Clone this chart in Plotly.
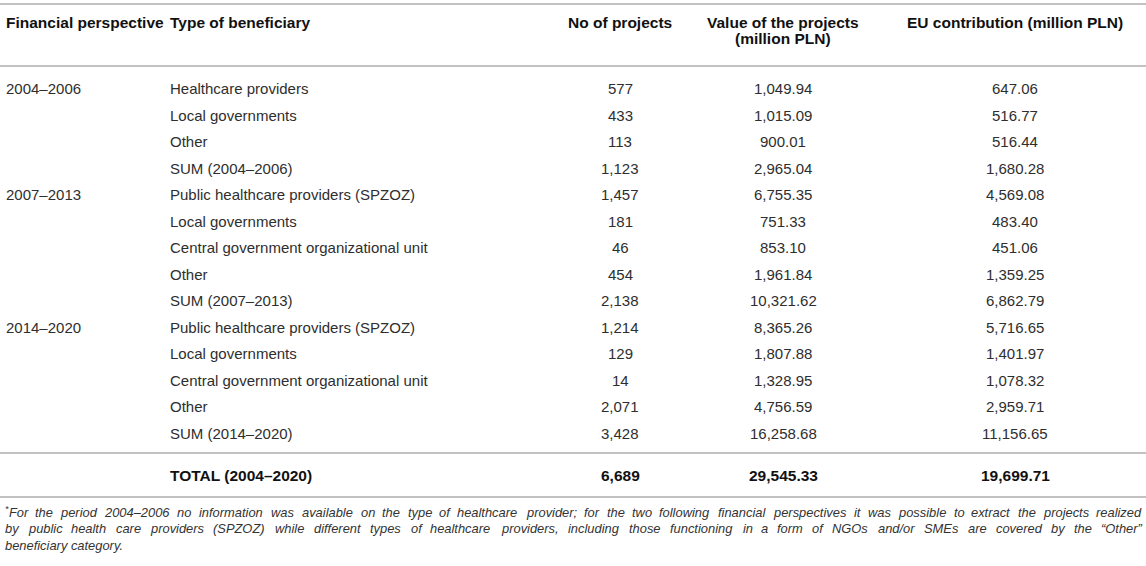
import plotly.graph_objects as go

# ---------------- data ----------------
periods = ["2004–2006", "2007–2013", "2014–2020"]
period_of_row = [0, 0, 0, 0, 1, 1, 1, 1, 1, 2, 2, 2, 2, 2]
beneficiary = [
    "Healthcare providers", "Local governments", "Other", "SUM (2004–2006)",
    "Public healthcare providers (SPZOZ)", "Local governments",
    "Central government organizational unit", "Other", "SUM (2007–2013)",
    "Public healthcare providers (SPZOZ)", "Local governments",
    "Central government organizational unit", "Other", "SUM (2014–2020)",
]
n_projects = [577, 433, 113, 1123, 1457, 181, 46, 454, 2138, 1214, 129, 14, 2071, 3428]
project_value = [1049.94, 1015.09, 900.01, 2965.04, 6755.35, 751.33, 853.10, 1961.84,
                 10321.62, 8365.26, 1807.88, 1328.95, 4756.59, 16258.68]
eu_contribution = [647.06, 516.77, 516.44, 1680.28, 4569.08, 483.40, 451.06, 1359.25,
                   6862.79, 5716.65, 1401.97, 1078.32, 2959.71, 11156.65]
total_label = "TOTAL (2004–2020)"
total_projects = 6689
total_value = 29545.33
total_eu = 19699.71

header_text = ["Financial perspective", "Type of beneficiary", "No of projects",
               ["Value of the projects", "(million PLN)"], "EU contribution (million PLN)"]
footnote_mark = "*"
footnote_lines = [
    "For the period 2004–2006 no information was available on the type of healthcare provider; "
    "for the two following financial perspectives it was possible to extract the projects realized",
    "by public health care providers (SPZOZ) while different types of healthcare providers, "
    "including those functioning in a form of NGOs and/or SMEs are covered by the “Other”",
    "beneficiary category.",
]

# ---------------- layout constants ----------------
W, H = 1146, 566
LEFT, RIGHT = 4, 1142
TEXT_COLS = [5, 169]
NUM_CENTERS = [620, 783, 1015]
HEAD_Y1, HEAD_Y2 = 22.5, 38
ROW0, ROW_H = 88.5, 26.5
TOTAL_Y = 475
RULES = [4, 66, 453, 497]
FOOT_Y0, FOOT_H = 512, 16.5
FONT = "Liberation Sans, Arial, Helvetica, sans-serif"
FS = 15
HFS = 15.5
FFS = 12.9
MARK_FS = 9
BODY = "#2e2e2e"
HEAD = "#111111"
FOOT = "#333333"
RULE = "#c2c2c2"

fig = go.Figure()
ann = []


def add(x, y, text, anchor="left", bold=False, size=FS, color=BODY, italic=False):
    t = text
    if bold:
        t = "<b>" + t + "</b>"
    if italic:
        t = "<i>" + t + "</i>"
    ann.append(dict(x=x, y=y, xref="x", yref="y", text=t, showarrow=False,
                    xanchor=anchor, yanchor="middle", borderpad=0,
                    font=dict(family=FONT, size=size, color=color)))


# headers
add(TEXT_COLS[0], HEAD_Y1, header_text[0], bold=True, color=HEAD, size=HFS)
add(TEXT_COLS[1], HEAD_Y1, header_text[1], bold=True, color=HEAD, size=HFS)
add(NUM_CENTERS[0], HEAD_Y1, header_text[2], anchor="center", bold=True, color=HEAD, size=HFS)
add(NUM_CENTERS[1], HEAD_Y1, header_text[3][0], anchor="center", bold=True, color=HEAD, size=HFS)
add(NUM_CENTERS[1], HEAD_Y2, header_text[3][1], anchor="center", bold=True, color=HEAD, size=HFS)
add(NUM_CENTERS[2], HEAD_Y1, header_text[4], anchor="center", bold=True, color=HEAD, size=HFS)

# body rows
prev = None
for i, b in enumerate(beneficiary):
    y = ROW0 + i * ROW_H
    p = period_of_row[i]
    if p != prev:
        add(TEXT_COLS[0], y, periods[p])
        prev = p
    add(TEXT_COLS[1], y, b)
    add(NUM_CENTERS[0], y, f"{n_projects[i]:,}", anchor="center")
    add(NUM_CENTERS[1], y, f"{project_value[i]:,.2f}", anchor="center")
    add(NUM_CENTERS[2], y, f"{eu_contribution[i]:,.2f}", anchor="center")

# total row
add(TEXT_COLS[1], TOTAL_Y, total_label, bold=True, color=HEAD, size=HFS)
add(NUM_CENTERS[0], TOTAL_Y, f"{total_projects:,}", anchor="center", bold=True, color=HEAD, size=HFS)
add(NUM_CENTERS[1], TOTAL_Y, f"{total_value:,.2f}", anchor="center", bold=True, color=HEAD, size=HFS)
add(NUM_CENTERS[2], TOTAL_Y, f"{total_eu:,.2f}", anchor="center", bold=True, color=HEAD, size=HFS)

# footnote: justified lines, word positions from Arial/Liberation metrics
ARIAL = {" ": 278, "!": 278, "(": 333, ")": 333, "*": 389, ",": 278, "-": 333, ".": 278,
         "/": 278, ":": 278, ";": 278, "–": 556, "“": 333, "”": 333, "’": 222, "'": 191,
         "A": 667, "B": 667, "C": 722, "D": 722, "E": 667, "F": 611, "G": 778, "H": 722,
         "I": 278, "J": 500, "K": 667, "L": 556, "M": 833, "N": 722, "O": 778, "P": 667,
         "Q": 778, "R": 722, "S": 667, "T": 611, "U": 722, "V": 667, "W": 944, "X": 667,
         "Y": 667, "Z": 611, "a": 556, "b": 556, "c": 500, "d": 556, "e": 556, "f": 278,
         "g": 556, "h": 556, "i": 222, "j": 222, "k": 500, "l": 222, "m": 833, "n": 556,
         "o": 556, "p": 556, "q": 556, "r": 333, "s": 500, "t": 278, "u": 556, "v": 500,
         "w": 722, "x": 500, "y": 500, "z": 500}
CALIB = 1.03


def text_width(s, size):
    return sum(ARIAL.get(ch, 556) for ch in s) / 1000.0 * size * CALIB


MARK_W = text_width(footnote_mark, MARK_FS)
add(LEFT, FOOT_Y0 - 3, footnote_mark, size=MARK_FS, italic=True, color=FOOT)
for k, line in enumerate(footnote_lines):
    y = FOOT_Y0 + k * FOOT_H
    if k == len(footnote_lines) - 1:
        add(LEFT, y, line, size=FFS, italic=True, color=FOOT)
        continue
    start = LEFT + (MARK_W if k == 0 else 0)
    words = line.split(" ")
    ws = [text_width(w_, FFS) for w_ in words]
    gap = (RIGHT - start - sum(ws)) / (len(words) - 1)
    x = start
    for j, w_ in enumerate(words):
        add(x, y, w_, size=FFS, italic=True, color=FOOT)
        x += ws[j] + gap

shapes = [dict(type="line", xref="x", yref="y", x0=0, x1=W, y0=r, y1=r,
               line=dict(color=RULE, width=2)) for r in RULES]

fig.update_layout(
    width=W, height=H,
    margin=dict(l=0, r=0, t=0, b=0),
    paper_bgcolor="white", plot_bgcolor="white",
    xaxis=dict(range=[0, W], visible=False, fixedrange=True),
    yaxis=dict(range=[H, 0], visible=False, fixedrange=True),
    annotations=ann, shapes=shapes, showlegend=False,
)
fig.write_html("out.html", config={"displayModeBar": False},
               post_script="document.body.style.margin='0';document.body.style.overflow='hidden';")
